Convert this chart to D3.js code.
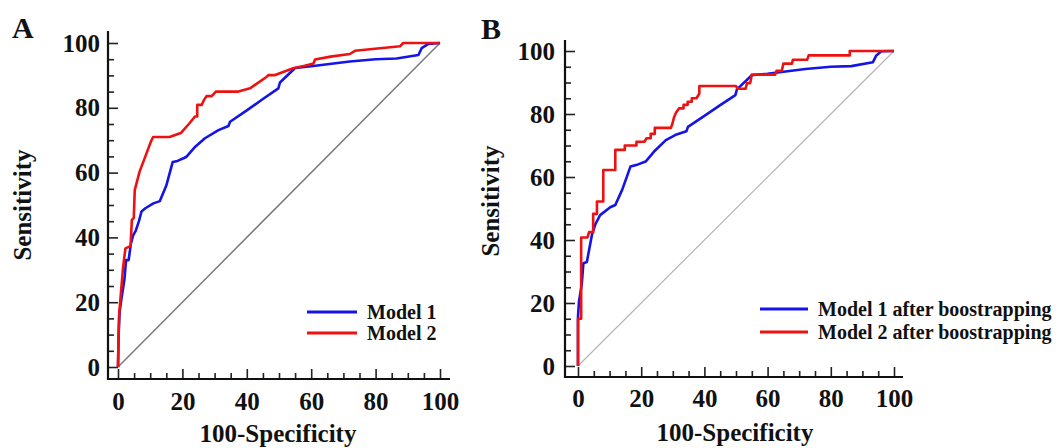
<!DOCTYPE html>
<html><head><meta charset="utf-8">
<script src="https://cdn.jsdelivr.net/npm/d3@7"></script>
<style>
body{margin:0;background:#fff}
svg{display:block}
text{font-family:"Liberation Serif","Times New Roman",serif;font-weight:bold;fill:#111}
</style></head><body>
<svg id="c" width="1062" height="448"></svg>
<script>
// ---- data ----
const majorTicks = [0, 20, 40, 60, 80, 100];
const minorTicks = [5, 10, 15, 25, 30, 35, 45, 50, 55, 65, 70, 75, 85, 90, 95];
const xTitle = "100-Specificity";
const yTitle = "Sensitivity";
const namesA = ["Model 1", "Model 2"];
const namesB = ["Model 1 after boostrapping", "Model 2 after boostrapping"];
const diagonal = [[0, 0], [100, 100]];

const model1A = [[0,0],[0.2,10],[0.5,17],[1.2,22],[2,27],[2.5,33],[3.3,33],[4,38],[4.7,40.6],[5.5,42],[6.5,45],[7.3,48],[8.5,49],[11,50.5],[13,51.2],[15,56],[17,63.3],[18.5,63.6],[20.5,64.5],[21.3,64.9],[24,68],[27,70.6],[31.2,73.1],[34.3,74.4],[34.8,75.7],[40,79.2],[45,82.7],[49.8,86],[50.3,87.8],[55,92.3],[60,92.8],[72,94.3],[80,95],[86.5,95.2],[93.3,96.3],[94.3,98.4],[96.4,99.7],[100,100]];
const model2A = [[0,0],[0.3,15.5],[1,24],[1.6,31],[2.3,36.6],[3.9,37.3],[4.3,45.4],[4.9,46],[5.2,54.6],[6.7,60.3],[8.5,65],[10.2,69.5],[10.9,71],[16,71],[19.5,72.2],[22,75],[23.9,77.3],[24.6,77.3],[24.6,80.9],[26,80.9],[26.7,82.4],[27.5,83.6],[29.1,83.6],[30.4,85],[37.4,85],[41,86],[46.2,89.6],[46.7,90.1],[48.8,90.1],[54.4,92.2],[58,93],[60.7,93.7],[61.2,94.9],[66,95.8],[72,96.6],[73.6,97.6],[87.6,99],[88.6,100],[100,100]];

const model1B = [[0,0],[0,15.6],[0.3,20.4],[1.2,26],[1.7,32.6],[2.8,33],[4.4,41.6],[5.5,45],[7,47.9],[10.2,50.4],[11.8,51.1],[14,56],[16.6,63.3],[19,64],[21.4,64.9],[24,68],[27.8,71.7],[31.2,73.5],[34.3,74.5],[34.8,75.9],[40,79.4],[45,82.8],[49.8,86],[50.3,87.8],[55,92.3],[60,92.8],[72,94.3],[80,95],[86.5,95.2],[93.3,96.4],[94.4,98.6],[96,99.9],[100,100]];
const model2B = [[0,0],[0,15],[1,15],[1,40.8],[3,40.8],[3.5,42.5],[4.8,42.5],[4.8,48.3],[6,48.3],[6,52.2],[8,52.2],[8,62.2],[11.8,62.2],[11.8,68.6],[14.8,68.6],[14.8,70],[18.5,70],[18.5,71.2],[21,71.2],[21.7,72.3],[23,72.3],[23,73.7],[24.3,73.7],[24.3,75.6],[29.4,75.6],[29.9,77],[30.4,79],[31,80.4],[32,81.8],[33.4,81.8],[33.4,82.9],[34.7,82.9],[34.7,83.9],[36,83.9],[36,85],[37.5,85],[38.4,86.5],[38.4,88.9],[50,88.9],[50.5,88],[53,88],[53.5,89.8],[54.5,89.8],[55,92.5],[62.4,92.5],[62.8,93.7],[64.5,93.7],[65,96],[67.7,96],[68,97.2],[72.5,97.2],[73,98.6],[86,98.6],[86,100],[100,100]];

// ---- drawing ----
const svg = d3.select("#c");
const colors = ["#1414e6", "#ee1111"];

function panel(cfg) {
  const g = svg.append("g");
  const x = d3.scaleLinear().domain([0, 100]).range([cfg.x0, cfg.x1]);
  const y = d3.scaleLinear().domain([0, 100]).range([cfg.y0, cfg.y1]);

  const yMinor = g.append("g").attr("transform", `translate(${cfg.axX},0)`)
    .call(d3.axisLeft(y).tickValues(minorTicks).tickSize(-6).tickFormat(""));
  const xMinor = g.append("g").attr("transform", `translate(0,${cfg.axY})`)
    .call(d3.axisBottom(x).tickValues(minorTicks).tickSize(-6).tickFormat(""));
  const yMajor = g.append("g").attr("transform", `translate(${cfg.axX},0)`)
    .call(d3.axisLeft(y).tickValues(majorTicks).tickSize(-10).tickPadding(cfg.yPad));
  const xMajor = g.append("g").attr("transform", `translate(0,${cfg.axY})`)
    .call(d3.axisBottom(x).tickValues(majorTicks).tickSize(-10).tickPadding(cfg.xPad));
  [yMinor, xMinor, yMajor, xMajor].forEach(a => {
    a.select(".domain").remove();
    a.selectAll("line").attr("stroke", "#222").attr("stroke-width", 1.6);
    a.selectAll("text").attr("font-size", 25).attr("fill", "#111")
      .style("font-family", '"Liberation Serif","Times New Roman",serif').style("font-weight", "bold");
  });

  g.append("line").attr("x1", cfg.axX).attr("x2", cfg.axX).attr("y1", cfg.axTop).attr("y2", cfg.axY + 1)
    .attr("stroke", "#111").attr("stroke-width", 2.2);
  g.append("line").attr("x1", cfg.axX - 1).attr("x2", cfg.axRight).attr("y1", cfg.axY).attr("y2", cfg.axY)
    .attr("stroke", "#111").attr("stroke-width", 2.2);

  const line = d3.line().x(d => x(d[0])).y(d => y(d[1]));
  g.append("path").datum(diagonal).attr("d", line).attr("fill", "none")
    .attr("stroke", cfg.diagColor).attr("stroke-width", cfg.diagWidth);
  cfg.series.forEach((s, i) => {
    g.append("path").datum(s).attr("d", line).attr("fill", "none")
      .attr("stroke", colors[i]).attr("stroke-width", 2.6).attr("stroke-linejoin", "round");
  });

  g.append("text").attr("x", cfg.letterX).attr("y", cfg.letterY).attr("font-size", 30).text(cfg.letter);
  g.append("text").attr("transform", `translate(${cfg.yTitleX},${cfg.yTitleY}) rotate(-90)`)
    .attr("text-anchor", "middle").attr("font-size", 25).text(yTitle);
  g.append("text").attr("x", cfg.xTitleX).attr("y", cfg.xTitleY)
    .attr("text-anchor", "middle").attr("font-size", 25).text(xTitle);

  cfg.names.forEach((n, i) => {
    const ly = cfg.legY + i * cfg.legGap;
    g.append("line").attr("x1", cfg.legX).attr("x2", cfg.legX + cfg.legLen).attr("y1", ly).attr("y2", ly)
      .attr("stroke", colors[i]).attr("stroke-width", 3);
    g.append("text").attr("x", cfg.legX + cfg.legLen + 10).attr("y", ly + 6.5)
      .attr("font-size", cfg.legFont).text(n);
  });
}

panel({
  letter: "A", letterX: 12, letterY: 38,
  x0: 118, x1: 440, y0: 367, y1: 43,
  axX: 108, axY: 379, axTop: 31, axRight: 450,
  yPad: 8, xPad: 13,
  yTitleX: 31, yTitleY: 205, xTitleX: 278, xTitleY: 442,
  series: [model1A, model2A], names: namesA,
  legX: 307, legY: 312, legGap: 21, legLen: 50, legFont: 20,
  diagColor: "#7a7a7a", diagWidth: 1.5
});
panel({
  letter: "B", letterX: 481, letterY: 39,
  x0: 578, x1: 894, y0: 366, y1: 51,
  axX: 565, axY: 377, axTop: 40, axRight: 903,
  yPad: 10, xPad: 12,
  yTitleX: 499, yTitleY: 201, xTitleX: 735, xTitleY: 441,
  series: [model1B, model2B], names: namesB,
  legX: 760, legY: 309, legGap: 23, legLen: 48, legFont: 20,
  diagColor: "#b5b5b5", diagWidth: 1.2
});
</script>
</body></html>
